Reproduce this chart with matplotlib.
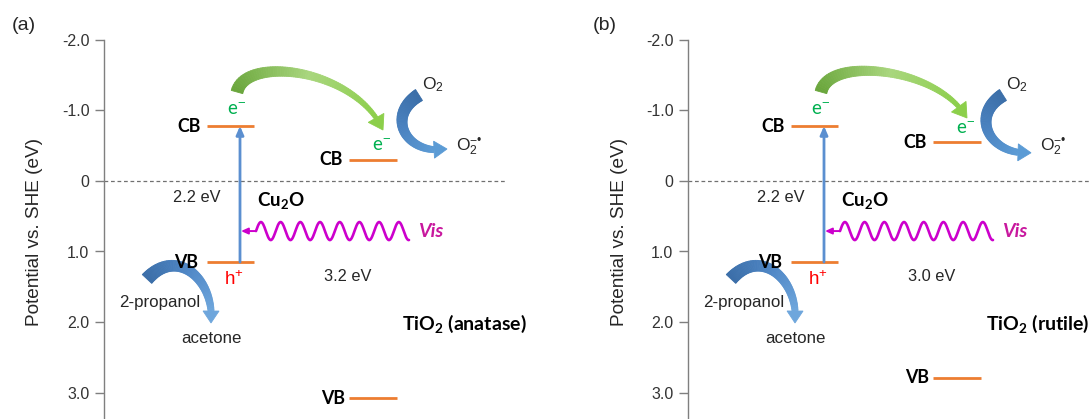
import numpy as np
import matplotlib
matplotlib.use("Agg")
import matplotlib.pyplot as plt
from matplotlib.patches import Polygon
from matplotlib.colors import to_rgb

plt.rcParams['font.family'] = ['Liberation Sans', 'DejaVu Sans']
plt.rcParams['mathtext.fontset'] = 'custom'
plt.rcParams['mathtext.rm'] = 'Liberation Sans'
plt.rcParams['mathtext.it'] = 'Liberation Sans:italic'
plt.rcParams['mathtext.bf'] = 'Lato:bold'

# band edges (eV vs SHE): [CB, VB]
cu2o_band = [-0.78, 1.15]
anatase_band = [-0.30, 3.08]
rutile_band = [-0.55, 2.79]

panel_tags = ['(a)', '(b)']
tio2_names = [r'TiO$_\mathbf{2}$ (anatase)', r'TiO$_\mathbf{2}$ (rutile)']
tio2_bands = [anatase_band, rutile_band]
cu2o_gap = '2.2 eV'
tio2_gaps = ['3.2 eV', '3.0 eV']

yticks = [-2.0, -1.0, 0.0, 1.0, 2.0, 3.0]
ytick_labels = ['-2.0', '-1.0', '0', '1.0', '2.0', '3.0']

ORANGE = '#ed7d31'
GREEN = '#00b050'
MAGENTA = '#cc00cc'
K = 70.5  # pixels per eV on the y axis (x axis is in pixels)


def grad_arrow(ax, ctrl, w0, w1, colors, head_w, head_l, n=70):
    """Tapered cubic-bezier arrow with a colour gradient, drawn in data coords."""
    P = np.array(ctrl, float)
    P[:, 1] *= K
    t = np.linspace(0, 1, 600)[:, None]
    B = ((1 - t) ** 3 * P[0] + 3 * (1 - t) ** 2 * t * P[1]
         + 3 * (1 - t) * t ** 2 * P[2] + t ** 3 * P[3])
    s = np.concatenate([[0], np.cumsum(np.hypot(*np.diff(B, axis=0).T))])
    tip = B[-1]
    sb = s[-1] - head_l
    ss = np.linspace(0, sb, n)
    pts = np.column_stack([np.interp(ss, s, B[:, 0]), np.interp(ss, s, B[:, 1])])
    d = np.gradient(pts, axis=0)
    d /= np.hypot(d[:, 0], d[:, 1])[:, None]
    nrm = np.column_stack([-d[:, 1], d[:, 0]])
    w = np.linspace(w0, w1, n)[:, None] / 2
    left, right = pts + nrm * w, pts - nrm * w
    cols = [np.array(to_rgb(c)) for c in colors]
    stops = np.linspace(0, 1, len(cols))

    def col(f):
        return tuple(np.interp(f, stops, [c[k] for c in cols]) for k in range(3))

    def back(a):
        a = np.array(a, float)
        a[:, 1] /= K
        return a

    for i in range(n - 1):
        c = col(i / (n - 2))
        quad = back([left[i], left[i + 1], right[i + 1], right[i]])
        ax.add_patch(Polygon(quad, closed=True, fc=c, ec=c, lw=0.6, clip_on=False))
    b = pts[-1]
    dh = (tip - b) / np.hypot(*(tip - b))
    nh = np.array([-dh[1], dh[0]])
    tri = back([b + nh * head_w / 2, tip, b - nh * head_w / 2])
    c = col(1.0)
    ax.add_patch(Polygon(tri, closed=True, fc=c, ec=c, lw=0.6, clip_on=False))


fig = plt.figure(figsize=(10.9, 4.19), dpi=100)
W, H = 1090, 419
spine_x = [104, 688]
ax_w = [401, 402]
top_px = 40
ybottom = -2.0 + (H - top_px) / K

for p in range(2):
    ax = fig.add_axes([spine_x[p] / W, 0, ax_w[p] / W, (H - top_px) / H])
    ax.set_xlim(0, ax_w[p])
    ax.set_ylim(ybottom, -2.0)
    for side in ['top', 'right', 'bottom']:
        ax.spines[side].set_visible(False)
    ax.spines['left'].set_color('#7f7f7f')
    ax.spines['left'].set_linewidth(1.0)
    ax.spines['left'].set_bounds(ybottom, -2.0)
    ax.set_xticks([])
    ax.set_yticks(yticks)
    ax.set_yticklabels(ytick_labels)
    ax.tick_params(axis='y', direction='out', length=6.5, width=1.0, color='#7f7f7f',
                   labelsize=11.5, labelcolor='#333333', pad=4)
    ax.patch.set_visible(False)

    ax.axhline(0, color='#707070', lw=0.9, ls=(0, (3, 2.2)))

    # Cu2O band edges
    cb, vb = cu2o_band
    ax.hlines([cb, vb], 103, 150, color=ORANGE, lw=2.0)
    ax.text(97, cb, 'CB', ha='right', va='center', fontsize=12.8, fontweight='bold',
            family='Lato')
    ax.text(94, vb, 'VB', ha='right', va='center', fontsize=12.8, fontweight='bold',
            family='Lato')
    ax.annotate('', xy=(136, cb), xytext=(136, vb),
                arrowprops=dict(arrowstyle='-|>,head_length=0.5,head_width=0.22',
                                color='#5b8fd0', lw=2.0, shrinkA=0, shrinkB=0))
    ax.text(133, -1.01, 'e$^{-}$', color=GREEN, ha='center', va='center', fontsize=13.5,
            family='Lato')
    ax.text(130, 1.40, 'h$^{+}$', color='#ff0000', ha='center', va='center', fontsize=13.5)
    ax.text(93, 0.23, cu2o_gap, ha='center', va='center', fontsize=11.8, color='#262626')
    ax.text(177, 0.28, r'Cu$_\mathbf{2}$O', ha='center', va='center', fontsize=13.5,
            fontweight='bold', family='Lato')

    # visible light wave + pointer to the Cu2O gap
    xw = np.linspace(152, 305, 400)
    yw = 0.71 - (9 / K) * np.sin(2 * np.pi * (xw - 152) / 19.7)
    ax.plot(xw, yw, color=MAGENTA, lw=1.9, solid_capstyle='round')
    ax.annotate('', xy=(137, 0.71), xytext=(152, 0.71),
                arrowprops=dict(arrowstyle='-|>,head_length=0.4,head_width=0.18',
                                color=MAGENTA, lw=1.4, shrinkA=0, shrinkB=0))
    ax.text(314, 0.71, 'Vis', color='#c8189e', ha='left', va='center', fontsize=14,
            fontweight='bold', fontstyle='italic', family='Lato')

    # TiO2 band edges
    tcb, tvb = tio2_bands[p]
    ax.hlines([tcb, tvb], 245, 293, color=ORANGE, lw=2.0)
    ax.text(239, tcb, 'CB', ha='right', va='center', fontsize=12.8, fontweight='bold',
            family='Lato')
    ax.text(241, tvb, 'VB', ha='right', va='center', fontsize=12.8, fontweight='bold',
            family='Lato')
    ax.text(244, 1.36, tio2_gaps[p], ha='center', va='center', fontsize=11.8,
            color='#262626')
    ax.text(298, 2.03, tio2_names[p], ha='left', va='center', fontsize=14,
            fontweight='bold', family='Lato')
    ax.text(278, tcb - 0.20, 'e$^{-}$', color=GREEN, ha='center', va='center',
            fontsize=13.5, family='Lato')

    # electron transfer Cu2O CB -> TiO2 CB
    end_y = [-0.723, -0.894][p]
    grad_arrow(ax, [(133, -1.262), (141, -1.787), (251, -1.60), (279, end_y)],
               12, 4, ['#6aa63c', '#a9d67e', '#8ccf4a'], 18, 14)

    # O2 reduction
    tip_y = [-0.454, -0.40][p]
    grad_arrow(ax, [(315, -1.22), (281, -0.922), (302, -0.355), (343, tip_y)],
               13, 6, ['#3b6ea8', '#4a82c0', '#5b9bd5'], 17, 13)
    ax.text(329, -1.36, 'O$_2$', ha='center', va='center', fontsize=12.5, color='#262626')
    ax.text(352, -0.47, r'O$_2^{-•}$', ha='left', va='center', fontsize=12.5,
            color='#262626')

    # 2-propanol oxidation
    grad_arrow(ax, [(43, 1.39), (73, 0.922), (111, 1.404), (107, 2.014)],
               13, 6, ['#3b6ea8', '#4f87c6', '#6ea6dc'], 16, 12)
    ax.text(56, 1.73, '2-propanol', ha='center', va='center', fontsize=12.2,
            color='#262626')
    ax.text(107, 2.24, 'acetone', ha='center', va='center', fontsize=12.2, color='#262626')

for tag, x in zip(panel_tags, [24, 605]):
    fig.text(x / W, 1 - 25 / H, tag, ha='center', va='center', fontsize=14,
             color='#262626')
for x in [35, 619]:
    fig.text(x / W, 1 - 232 / H, 'Potential vs. SHE (eV)', rotation=90, ha='center',
             va='center', fontsize=13.7, color='#262626')

fig.savefig('out.png', dpi=100)
